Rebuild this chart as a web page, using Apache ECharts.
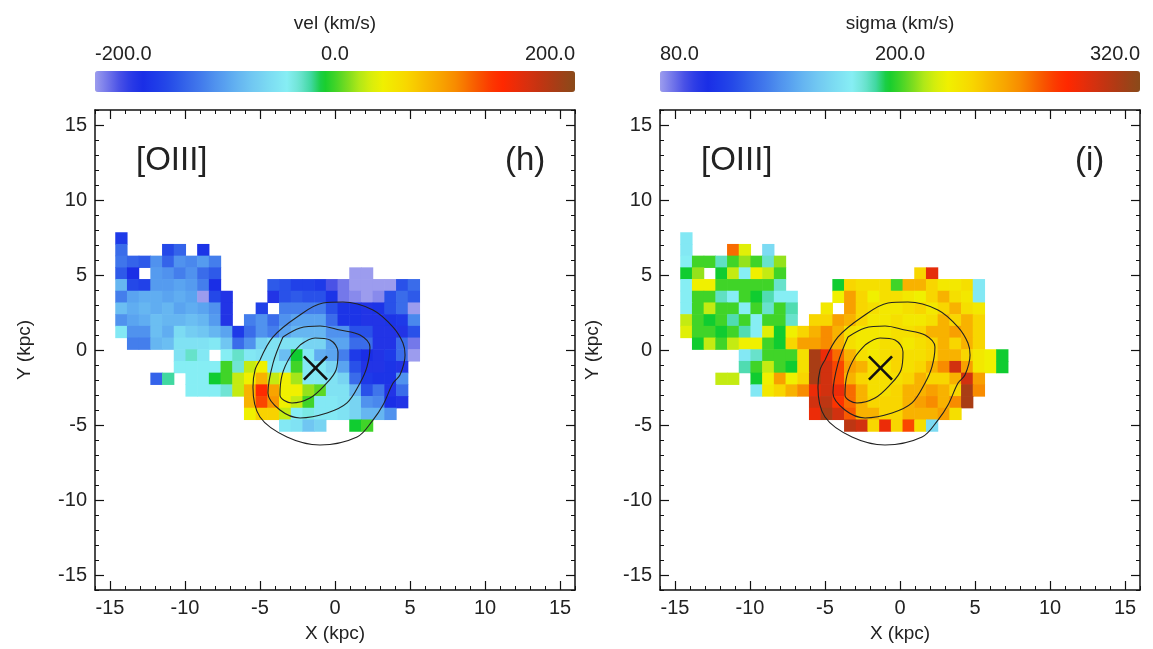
<!DOCTYPE html>
<html><head><meta charset="utf-8">
<script src="https://cdn.jsdelivr.net/npm/echarts@6/dist/echarts.min.js"></script>
<style>html,body{margin:0;padding:0;background:#fff}#c{width:1153px;height:649px}</style>
</head><body><div id="c"></div>
<script>
const N = null;
// map sampling (kpc)
const CELL = 0.78;
const X_FIRST = -14.26;
const Y_FIRST = 7.46;
const AXIS_TICKS = [-15, -10, -5, 0, 5, 10, 15];
const VEL_TICKS = [-200, 0, 200];
const SIG_TICKS = [80, 200, 320];
const VEL_RANGE = [-200, 200];
const SIG_RANGE = [80, 320];
const NUCLEUS = [-1.3, -1.2];

// continuum contours (kpc)
const contourOuter = [[-5.0,-0.67],[-4.13,0.87],[-2.53,2.2],[-0.8,3.13],[0.53,3.2],[2.53,2.67],[3.87,1.53],[4.53,0.47],[4.67,-0.33],[4.33,-1.67],[3.87,-2.2],[3.2,-3.67],[2.53,-4.67],[1.47,-5.8],[-1.0,-6.33],[-3.2,-5.8],[-5.0,-4.47],[-5.47,-2.47],[-5.33,-1.33],[-5.0,-0.67]];
const contourMiddle = [[-3.47,0.87],[-2.33,1.47],[-1.0,1.6],[0.33,1.33],[1.67,1.0],[2.33,0.2],[2.13,-1.13],[1.67,-2.2],[0.8,-3.53],[-0.53,-4.2],[-2.33,-4.53],[-3.67,-4.0],[-4.47,-2.87],[-4.13,-0.87],[-3.47,0.87]];
const contourInner = [[-2.33,0.33],[-1.33,0.8],[-0.33,0.67],[0.2,-0.13],[0.07,-1.33],[-0.67,-2.33],[-1.67,-3.2],[-2.87,-3.53],[-3.67,-3.0],[-3.53,-1.67],[-3.0,-0.47],[-2.33,0.33]];

// [OIII] velocity map (km/s), rows top->bottom, columns left->right
const velRows = [
 [-150],
 [-120,N,N,N,-140,-125,N,-155],
 [-115,-125,-130,-100,-125,-100,-105,-95,-110],
 [-130,-160,N,-95,-100,-110,-100,-120,-130,N,N,N,N,N,N,N,N,N,N,N,-200,-200],
 [-80,-140,-145,-95,-95,-90,-95,-110,-160,N,N,N,N,-130,-135,-145,-145,-150,-180,-190,-200,-200,-200,-200,-135,-120],
 [-110,-90,-85,-85,-90,-85,-90,-200,-140,-165,N,N,N,-165,-135,-130,-135,-135,-155,-190,-195,-200,-195,-135,-120,-130],
 [-75,-85,-80,-85,-80,-90,-85,-90,-100,-165,N,N,-145,N,-110,-110,-110,-110,-135,-155,-155,-165,-155,-135,-120,-200],
 [-100,-90,-85,-75,-80,-80,-75,-80,-95,-165,N,-110,-100,-120,-100,-90,-90,-90,-120,-155,-155,-165,-165,-155,-150,-105],
 [-45,-100,-100,-75,-85,-55,-65,-70,-80,-90,-150,-120,-100,-110,-90,-80,-80,-80,-100,-100,-135,-135,-165,-165,-165,-135],
 [N,-110,-110,-80,-75,-50,-50,-50,-45,-70,-120,-100,-60,-50,-50,-50,-60,-60,-90,-90,-120,-120,-165,-165,-120,-190],
 [N,N,N,N,N,-50,-28,-45,N,-40,-28,-45,-50,-50,-75,-10,-45,-85,-90,-110,-150,-160,-165,-150,-120,-200],
 [N,N,N,N,N,-40,-40,-40,-40,0,-30,25,40,-45,-45,0,-45,-45,-60,-90,-135,-165,-165,-155,-165],
 [N,N,N,-125,-20,N,-40,-40,-10,0,25,40,80,25,40,18,-45,-45,-50,-60,-120,-150,-155,-155,-100],
 [N,N,N,N,N,N,-40,-40,-40,-30,25,80,138,88,40,40,15,5,-50,-50,-80,-135,-115,-165,-120],
 [N,N,N,N,N,N,N,N,N,N,N,80,125,95,40,25,0,-45,-45,-50,-60,-100,-105,-160,-165],
 [N,N,N,N,N,N,N,N,N,N,N,40,62,62,25,-40,-35,-45,-45,-50,-60,-80,-80,-100],
 [N,N,N,N,N,N,N,N,N,N,N,N,N,N,-45,-50,-70,-60,N,N,-10,0]
];

// [OIII] velocity dispersion map (km/s)
const sigRows = [
 [173],
 [173,N,N,N,267,220,N,167],
 [176,200,200,184,200,209,200,183,209],
 [194,209,N,194,215,176,224,215,200,N,N,N,N,N,N,N,N,N,N,N,236,292],
 [176,224,224,200,200,200,200,200,183,N,N,N,N,194,236,232,232,232,200,248,248,236,228,228,232,173],
 [176,200,200,184,176,200,194,186,176,176,N,N,N,224,254,236,224,232,232,228,224,236,248,232,228,173],
 [176,200,215,200,200,176,200,183,200,186,N,N,228,N,254,236,232,228,228,232,236,228,236,248,232,228],
 [215,200,194,200,186,200,176,200,200,183,N,236,236,254,248,236,228,228,232,228,228,232,248,236,248,236],
 [220,200,200,194,200,186,176,220,194,224,236,248,260,248,232,228,228,228,232,232,236,248,248,254,248,236],
 [N,194,215,200,215,224,224,200,194,236,254,254,260,248,232,228,228,232,232,228,232,236,248,236,248,236],
 [N,N,N,N,N,173,183,200,200,200,232,310,290,267,248,232,228,232,236,232,232,236,248,248,236,228,224,194],
 [N,N,N,N,N,186,200,215,200,194,232,310,298,275,254,248,232,228,236,232,236,248,260,298,254,228,224,194],
 [N,N,N,215,215,N,194,224,254,224,236,310,298,275,248,236,232,232,232,236,248,236,236,248,298,254],
 [N,N,N,N,N,N,173,228,236,248,260,290,298,290,267,248,232,232,236,248,248,254,248,236,310,260],
 [N,N,N,N,N,N,N,N,N,N,N,298,304,280,267,248,236,236,236,248,254,260,248,260,310],
 [N,N,N,N,N,N,N,N,N,N,N,290,310,298,271,248,248,236,236,248,248,248,254,232],
 [N,N,N,N,N,N,N,N,N,N,N,N,N,N,304,298,236,290,236,275,232,167]
];

const RAINBOW = ['#9c9cee','#7478ea','#4a52e6','#2a3ae6','#1a2ee6','#1e3ae8','#2448e8','#2e5ae9','#3a6cea','#447eec',
 '#5092ee','#5aa4f0','#66b6f1','#70c6f2','#78d4f2','#80e2f3','#86eef4','#70e4d4','#40d8a0','#10cc30',
 '#40d428','#78dc20','#b0e818','#d8ee0c','#f0f000','#f4e400','#f8d600','#f8c400','#f8b200','#f8a000',
 '#f88c00','#f87000','#f85400','#fc3800','#ff2800','#ec2c08','#d8300e','#c43412','#b03a14','#9c4218','#8a4a1a'];

const FONT = '"Liberation Sans", Arial, Helvetica, sans-serif';
const TXT = '#222';
const LINE = '#111';

function cells(rows) {
  const out = [];
  rows.forEach((row, r) => row.forEach((v, c) => {
    if (v !== null) out.push([X_FIRST + c * CELL, Y_FIRST - r * CELL, v]);
  }));
  return out;
}

function frameAxes(dim, grid, name, nameGap) {
  const pos = dim === 'x' ? ['bottom', 'top'] : ['left', 'right'];
  const base = { type: 'value', gridIndex: grid, min: -16, max: 16, splitLine: { show: false } };
  const minor = p => Object.assign({}, base, {
    position: p, interval: 1,
    axisLine: { show: true, onZero: false, lineStyle: { color: LINE, width: 1.5 } },
    axisTick: { show: true, inside: true, length: 4, lineStyle: { color: LINE, width: 1 } },
    axisLabel: { show: false }
  });
  const major = (p, labels) => Object.assign({}, base, {
    position: p,
    axisLine: { show: false, onZero: false },
    axisTick: { show: true, inside: true, length: 9, customValues: AXIS_TICKS, lineStyle: { color: LINE, width: 1.2 } },
    axisLabel: labels ? { show: true, customValues: AXIS_TICKS, fontSize: 20, color: TXT, fontFamily: FONT, margin: 8 } : { show: false },
    name: labels ? name : '', nameLocation: 'middle', nameGap: nameGap, nameRotate: dim === 'y' ? 90 : 0,
    nameTextStyle: { fontSize: 19, color: TXT, fontFamily: FONT }
  });
  return [minor(pos[0]), major(pos[0], true), minor(pos[1]), major(pos[1], false)];
}

function barAxis(grid, range, ticks, name) {
  return {
    type: 'value', gridIndex: grid, position: 'top', min: range[0], max: range[1],
    axisLine: { show: false }, axisTick: { show: false }, splitLine: { show: false },
    axisLabel: { show: true, customValues: ticks, formatter: v => v.toFixed(1), fontSize: 20, color: TXT, fontFamily: FONT, margin: 7,
      alignMinLabel: 'left', alignMaxLabel: 'right' },
    name: name, nameLocation: 'middle', nameGap: 38, nameTextStyle: { fontSize: 19, color: TXT, fontFamily: FONT }
  };
}

function renderCell(params, api) {
  const x = api.value(0), y = api.value(1);
  const p0 = api.coord([x - CELL / 2, y + CELL / 2]);
  const p1 = api.coord([x + CELL / 2, y - CELL / 2]);
  return { type: 'rect', shape: { x: p0[0], y: p0[1], width: p1[0] - p0[0] + 0.6, height: p1[1] - p0[1] + 0.6 },
    style: { fill: api.visual('color') } };
}
const CROSS_HALF = 0.77;
function renderCross(params, api) {
  const c = api.coord([api.value(0), api.value(1)]);
  const s = api.size([CROSS_HALF, CROSS_HALF]);
  const st = { stroke: LINE, lineWidth: 2.6 };
  return { type: 'group', children: [
    { type: 'line', shape: { x1: c[0] - s[0], y1: c[1] - s[1], x2: c[0] + s[0], y2: c[1] + s[1] }, style: st },
    { type: 'line', shape: { x1: c[0] - s[0], y1: c[1] + s[1], x2: c[0] + s[0], y2: c[1] - s[1] }, style: st }
  ] };
}
function contour(data, ax) {
  return { type: 'line', xAxisIndex: ax, yAxisIndex: ax, data: data, smooth: 0.35, symbol: 'none', silent: true,
    lineStyle: { color: '#222', width: 1.1 }, z: 3 };
}

const xAxes = [].concat(frameAxes('x', 0, 'X (kpc)', 34), frameAxes('x', 1, 'X (kpc)', 34),
  [barAxis(2, VEL_RANGE, VEL_TICKS, 'vel (km/s)'), barAxis(3, SIG_RANGE, SIG_TICKS, 'sigma (km/s)')]);
const yAxes = [].concat(frameAxes('y', 0, 'Y (kpc)', 61), frameAxes('y', 1, 'Y (kpc)', 58),
  [{ type: 'value', gridIndex: 2, show: false, min: 0, max: 1 }, { type: 'value', gridIndex: 3, show: false, min: 0, max: 1 }]);

const titleStyle = { fontSize: 33, fontWeight: 'normal', color: TXT, fontFamily: FONT };

const option = {
  animation: false,
  backgroundColor: '#fff',
  title: [
    { text: '[OIII]', left: 131, top: 139, textStyle: titleStyle },
    { text: '(h)', left: 500, top: 139, textStyle: titleStyle },
    { text: '[OIII]', left: 696, top: 139, textStyle: titleStyle },
    { text: '(i)', left: 1070, top: 139, textStyle: titleStyle }
  ],
  grid: [
    { left: 95, top: 110, width: 480, height: 480 },
    { left: 660, top: 110, width: 480, height: 480 },
    { left: 95, top: 71, width: 480, height: 21 },
    { left: 660, top: 71, width: 480, height: 21 }
  ],
  xAxis: xAxes,
  yAxis: yAxes,
  visualMap: [
    { type: 'continuous', seriesIndex: 0, dimension: 2, min: VEL_RANGE[0], max: VEL_RANGE[1], orient: 'horizontal',
      left: 95, top: 71, itemWidth: 21, itemHeight: 480, padding: 0, calculable: false, hoverLink: false,
      inRange: { color: RAINBOW } },
    { type: 'continuous', seriesIndex: 1, dimension: 2, min: SIG_RANGE[0], max: SIG_RANGE[1], orient: 'horizontal',
      left: 660, top: 71, itemWidth: 21, itemHeight: 480, padding: 0, calculable: false, hoverLink: false,
      inRange: { color: RAINBOW } }
  ],
  series: [
    { type: 'custom', xAxisIndex: 0, yAxisIndex: 0, data: cells(velRows), renderItem: renderCell, encode: { x: 0, y: 1 }, z: 2 },
    { type: 'custom', xAxisIndex: 4, yAxisIndex: 4, data: cells(sigRows), renderItem: renderCell, encode: { x: 0, y: 1 }, z: 2 },
    contour(contourOuter, 0), contour(contourMiddle, 0), contour(contourInner, 0),
    contour(contourOuter, 4), contour(contourMiddle, 4), contour(contourInner, 4),
    { type: 'custom', xAxisIndex: 0, yAxisIndex: 0, data: [NUCLEUS], renderItem: renderCross, encode: { x: 0, y: 1 }, z: 4 },
    { type: 'custom', xAxisIndex: 4, yAxisIndex: 4, data: [NUCLEUS], renderItem: renderCross, encode: { x: 0, y: 1 }, z: 4 }
  ]
};
const chart = echarts.init(document.getElementById('c'));
chart.setOption(option);
</script></body></html>
